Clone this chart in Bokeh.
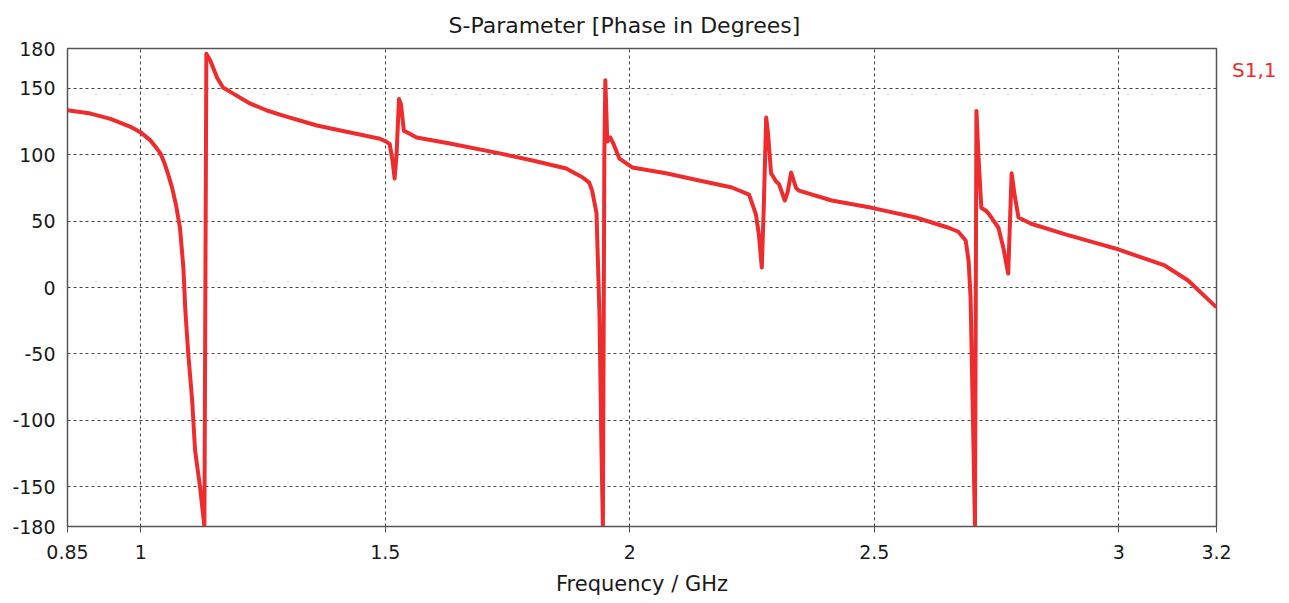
from bokeh.plotting import figure
from bokeh.models import FixedTicker, Range1d, Legend, LegendItem
from bokeh.embed import file_html
from bokeh.resources import INLINE

# Frequency (GHz) and S1,1 phase (degrees)
freq = [0.850, 0.897, 0.938, 0.979, 0.999, 1.019, 1.030, 1.040, 1.048, 1.056,
        1.064, 1.072, 1.080, 1.087, 1.091, 1.097, 1.105, 1.111, 1.121, 1.130,
        1.134, 1.142,
        1.156, 1.168, 1.189, 1.223, 1.258, 1.291, 1.360, 1.428, 1.489, 1.501,
        1.509, 1.515, 1.519, 1.523, 1.528, 1.532, 1.538, 1.544, 1.564, 1.632,
        1.734, 1.801, 1.870, 1.903, 1.917, 1.923, 1.932, 1.934, 1.938, 1.942,
        1.945, 1.948, 1.950, 1.954, 1.960, 1.968, 1.979, 2.005, 2.074, 2.142,
        2.209, 2.244, 2.258, 2.264, 2.270, 2.274, 2.279, 2.283, 2.289, 2.299,
        2.305, 2.317, 2.323, 2.330, 2.340, 2.346, 2.413, 2.495, 2.585, 2.652,
        2.672, 2.687, 2.693, 2.697, 2.703, 2.706, 2.709, 2.713, 2.719, 2.728,
        2.734, 2.754, 2.764, 2.774, 2.781, 2.787, 2.795, 2.821, 2.891, 2.958,
        2.993, 3.094, 3.142, 3.200]
phase = [133.5, 131.0, 127.0, 121.0, 117.0, 111.0, 106.0, 101.0, 94.0, 85.0,
         75.0, 62.0, 45.0, 15.0, -17.0, -50.0, -85.0, -123.0, -150.0, -180.0,
         176.0, 171.0,
         158.0, 150.6, 146.0, 138.6, 133.3, 129.5, 122.0, 116.7, 112.0, 110.0,
         108.0, 95.0, 82.0, 100.0, 142.0, 138.0, 118.0, 117.0, 113.0, 108.5,
         101.0, 95.6, 89.6, 83.0, 79.0, 73.0, 56.0, 30.0, -20.0, -120.0,
         -180.0, 100.0, 156.0, 110.0, 113.0, 107.0, 97.0, 90.4, 86.0, 80.6,
         75.3, 70.0, 55.0, 40.0, 15.0, 60.0, 128.0, 115.0, 86.0, 80.0,
         78.0, 65.5, 72.0, 86.6, 75.0, 73.0, 65.5, 60.0, 52.7, 45.0,
         42.0, 35.4, 20.0, -7.5, -120.0, -180.0, 133.0, 100.0, 60.0, 58.0,
         55.7, 45.0, 30.0, 10.5, 86.0, 70.0, 52.7, 48.0, 40.0, 33.0,
         29.4, 16.6, 5.3, -15.0]

x_ticks = [0.85, 1, 1.5, 2, 2.5, 3, 3.2]
x_tick_labels = ["0.85", "1", "1.5", "2", "2.5", "3", "3.2"]
x_grid = [1, 1.5, 2, 2.5, 3]
y_ticks = [-180, -150, -100, -50, 0, 50, 100, 150, 180]
y_grid = [-150, -100, -50, 0, 50, 100, 150]
series_name = "S1,1"

RED = "#EE2C2E"
FONT = "DejaVu Sans"
TXT = "#1a1a1a"

p = figure(frame_width=1149, frame_height=478,
           x_range=Range1d(0.85, 3.2), y_range=Range1d(-180, 180),
           output_backend="svg", toolbar_location=None,
           min_border_left=67, min_border_right=60,
           min_border_top=48, min_border_bottom=75)

p.title.text = "S-Parameter [Phase in Degrees]"
p.title.text_font = FONT
p.title.text_font_size = "22px"
p.title.text_font_style = "normal"
p.title.text_color = TXT
p.title.align = "left"
p.title.offset = 381
p.title.standoff = 21

r = p.line(freq, phase, line_width=4, color=RED, line_join="round")

p.xaxis.ticker = FixedTicker(ticks=x_ticks)
p.xaxis.major_label_overrides = {t: l for t, l in zip(x_ticks, x_tick_labels)}
p.xaxis.axis_label = "Frequency / GHz"
p.yaxis.ticker = FixedTicker(ticks=y_ticks)
p.yaxis.major_label_overrides = {t: str(t) for t in y_ticks}

for ax in (p.xaxis[0], p.yaxis[0]):
    ax.minor_tick_line_color = None
    ax.major_label_text_font = FONT
    ax.major_label_text_font_size = "19px"
    ax.major_label_text_color = TXT
    ax.axis_line_color = "#555555"
    ax.major_tick_line_color = "#555555"
    ax.axis_label_text_font = FONT
    ax.axis_label_text_font_size = "21px"
    ax.axis_label_text_font_style = "normal"
    ax.axis_label_text_color = TXT

p.xaxis.major_tick_out = 6
p.xaxis.major_tick_in = 0
p.xaxis.major_label_standoff = 12
p.xaxis.axis_label_standoff = 10
p.yaxis.major_tick_out = 0
p.yaxis.major_tick_in = 0
p.yaxis.major_label_standoff = 12

p.xgrid.ticker = FixedTicker(ticks=x_grid)
p.ygrid.ticker = FixedTicker(ticks=y_grid)
for g in (p.xgrid[0], p.ygrid[0]):
    g.grid_line_color = "#444444"
    g.grid_line_dash = "3 3"
    g.grid_line_width = 1

p.outline_line_color = "#555555"
p.outline_line_width = 1.5
p.background_fill_color = "white"
p.border_fill_color = "white"

legend = Legend(items=[LegendItem(label=series_name, renderers=[r])],
                location="top_left", glyph_width=0, glyph_height=20,
                label_height=20, label_standoff=6, padding=0, margin=10,
                spacing=0, border_line_color=None, background_fill_alpha=0,
                label_text_color=RED, label_text_font=FONT,
                label_text_font_size="20px")
p.add_layout(legend, "right")

open("out.html", "w").write(file_html(p, INLINE))
